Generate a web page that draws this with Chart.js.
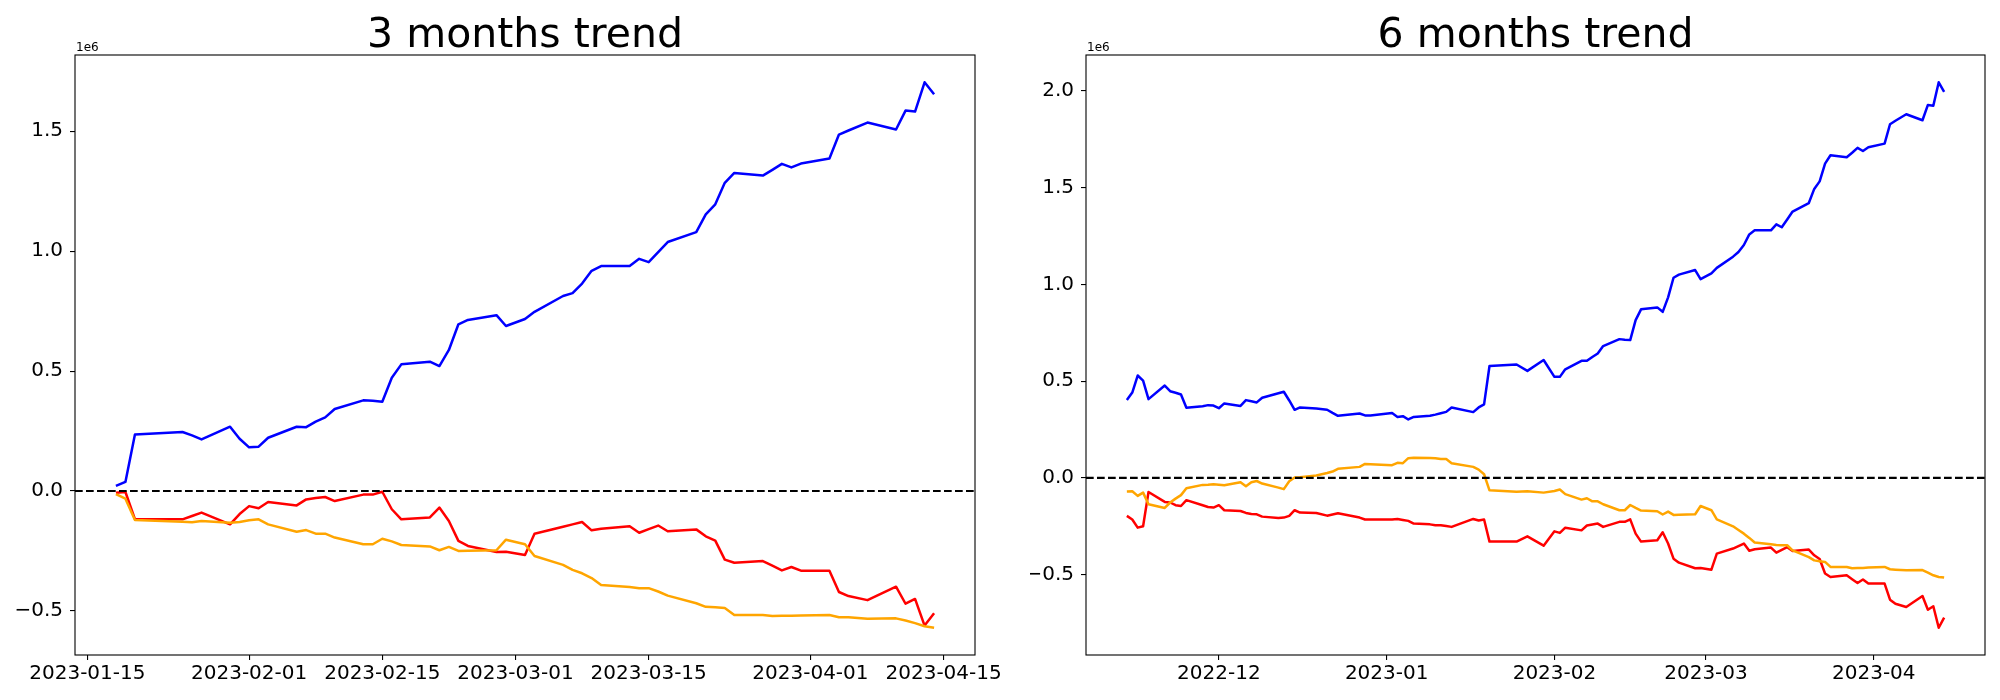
<!DOCTYPE html>
<html>
<head>
<meta charset="utf-8">
<script src="https://cdn.jsdelivr.net/npm/chart.js@4.4.0/dist/chart.umd.min.js"></script>
<style>
  body { margin: 0; background: #fff; width: 2000px; height: 700px; overflow: hidden; position: relative; }
  canvas { position: absolute; top: 0; }
  #left { left: 0; }
  #right { left: 1030px; }
</style>
</head>
<body>
<canvas id="left" width="1030" height="700"></canvas>
<canvas id="right" width="970" height="700"></canvas>
<script>
// 3 months panel (values in units of 1e6)
var dates3m = [
  '2023-01-18','2023-01-19','2023-01-20','2023-01-25','2023-01-26','2023-01-27',
  '2023-01-30','2023-01-31','2023-02-01','2023-02-02','2023-02-03',
  '2023-02-06','2023-02-07','2023-02-08','2023-02-09','2023-02-10',
  '2023-02-13','2023-02-14','2023-02-15','2023-02-16','2023-02-17',
  '2023-02-20','2023-02-21','2023-02-22','2023-02-23','2023-02-24',
  '2023-02-27','2023-02-28','2023-03-02','2023-03-03',
  '2023-03-06','2023-03-07','2023-03-08','2023-03-09','2023-03-10',
  '2023-03-13','2023-03-14','2023-03-15','2023-03-16','2023-03-17',
  '2023-03-20','2023-03-21','2023-03-22','2023-03-23','2023-03-24',
  '2023-03-27','2023-03-28','2023-03-29','2023-03-30','2023-03-31',
  '2023-04-03','2023-04-04','2023-04-05','2023-04-07',
  '2023-04-10','2023-04-11','2023-04-12','2023-04-13','2023-04-14'
];
var blue3m = [
  0.021, 0.038, 0.236, 0.246, 0.232, 0.215,
  0.268, 0.218, 0.182, 0.185, 0.222,
  0.268, 0.266, 0.289, 0.307, 0.342,
  0.378, 0.376, 0.372, 0.472, 0.528,
  0.539, 0.521, 0.588, 0.695, 0.713,
  0.733, 0.688, 0.717, 0.747,
  0.813, 0.825, 0.865, 0.918, 0.938,
  0.938, 0.968, 0.954, 0.996, 1.038,
  1.079, 1.153, 1.195, 1.285, 1.326,
  1.315, 1.339, 1.364, 1.349, 1.365,
  1.386, 1.486, 1.503, 1.536,
  1.507, 1.586, 1.582, 1.704, 1.654
];
var red3m = [
  -0.007, -0.004, -0.117, -0.118, -0.104, -0.090,
  -0.139, -0.096, -0.063, -0.072, -0.046,
  -0.060, -0.035, -0.029, -0.025, -0.042,
  -0.015, -0.015, -0.003, -0.076, -0.118,
  -0.110, -0.069, -0.125, -0.208, -0.229,
  -0.254, -0.253, -0.267, -0.178,
  -0.149, -0.139, -0.129, -0.164, -0.157,
  -0.147, -0.174, -0.159, -0.144, -0.168,
  -0.160, -0.189, -0.207, -0.286, -0.299,
  -0.292, -0.311, -0.331, -0.317, -0.332,
  -0.332, -0.421, -0.438, -0.455,
  -0.399, -0.470, -0.450, -0.561, -0.510
];
var orange3m = [
  -0.013, -0.032, -0.121, -0.128, -0.130, -0.125,
  -0.132, -0.129, -0.122, -0.118, -0.139,
  -0.170, -0.163, -0.178, -0.178, -0.194,
  -0.222, -0.222, -0.199, -0.210, -0.225,
  -0.231, -0.247, -0.233, -0.250, -0.249,
  -0.247, -0.203, -0.222, -0.271,
  -0.308, -0.329, -0.343, -0.363, -0.392,
  -0.400, -0.405, -0.405, -0.419, -0.436,
  -0.468, -0.483, -0.485, -0.488, -0.517,
  -0.517, -0.521, -0.520, -0.520, -0.519,
  -0.517, -0.526, -0.526, -0.533,
  -0.531, -0.540, -0.551, -0.564, -0.570
];
var ticks3m = ['2023-01-15','2023-02-01','2023-02-15','2023-03-01','2023-03-15','2023-04-01','2023-04-15'];

// 6 months panel
var dates6m = [
  '2022-11-14','2022-11-15','2022-11-16','2022-11-17','2022-11-18',
  '2022-11-21','2022-11-22','2022-11-23','2022-11-24','2022-11-25',
  '2022-11-28','2022-11-29','2022-11-30','2022-12-01','2022-12-02',
  '2022-12-05','2022-12-06','2022-12-07','2022-12-08','2022-12-09',
  '2022-12-12','2022-12-13','2022-12-14','2022-12-15','2022-12-16',
  '2022-12-19','2022-12-21','2022-12-22','2022-12-23',
  '2022-12-27','2022-12-28','2022-12-29',
  '2023-01-02','2023-01-03','2023-01-04','2023-01-05','2023-01-06',
  '2023-01-09','2023-01-10','2023-01-11','2023-01-12','2023-01-13',
  '2023-01-17','2023-01-18','2023-01-19','2023-01-20',
  '2023-01-25','2023-01-27',
  '2023-01-30','2023-02-01','2023-02-02','2023-02-03',
  '2023-02-06','2023-02-07','2023-02-08','2023-02-09','2023-02-10',
  '2023-02-13','2023-02-14','2023-02-15','2023-02-16','2023-02-17',
  '2023-02-20','2023-02-21','2023-02-22','2023-02-23','2023-02-24',
  '2023-02-27','2023-02-28','2023-03-02','2023-03-03',
  '2023-03-06','2023-03-07','2023-03-08','2023-03-09','2023-03-10',
  '2023-03-13','2023-03-14','2023-03-15','2023-03-16','2023-03-17',
  '2023-03-20','2023-03-21','2023-03-22','2023-03-23','2023-03-24',
  '2023-03-27','2023-03-28','2023-03-29','2023-03-30','2023-03-31',
  '2023-04-03','2023-04-04','2023-04-05','2023-04-07',
  '2023-04-10','2023-04-11','2023-04-12','2023-04-13','2023-04-14'
];
var blue6m = [
  0.402, 0.441, 0.529, 0.503, 0.407,
  0.477, 0.448, 0.440, 0.431, 0.362,
  0.370, 0.376, 0.374, 0.360, 0.385,
  0.372, 0.402, 0.396, 0.390, 0.414,
  0.437, 0.445, 0.400, 0.352, 0.364,
  0.358, 0.352, 0.336, 0.321,
  0.333, 0.323, 0.323,
  0.335, 0.315, 0.319, 0.302, 0.315,
  0.321, 0.327, 0.334, 0.341, 0.364,
  0.340, 0.364, 0.380, 0.578,
  0.586, 0.553,
  0.609, 0.522, 0.522, 0.561,
  0.605, 0.605, 0.625, 0.643, 0.681,
  0.717, 0.714, 0.712, 0.815, 0.871,
  0.881, 0.858, 0.933, 1.034, 1.050,
  1.074, 1.027, 1.057, 1.085,
  1.143, 1.167, 1.203, 1.258, 1.279,
  1.279, 1.310, 1.295, 1.335, 1.376,
  1.420, 1.493, 1.532, 1.624, 1.667,
  1.657, 1.680, 1.705, 1.689, 1.708,
  1.727, 1.827, 1.845, 1.879,
  1.848, 1.927, 1.923, 2.044, 1.994
];
var red6m = [
  -0.196, -0.215, -0.257, -0.250, -0.073,
  -0.124, -0.127, -0.141, -0.145, -0.115,
  -0.141, -0.150, -0.153, -0.141, -0.167,
  -0.171, -0.181, -0.186, -0.188, -0.200,
  -0.207, -0.205, -0.196, -0.167, -0.179,
  -0.181, -0.195, -0.189, -0.183,
  -0.205, -0.215, -0.215,
  -0.215, -0.212, -0.217, -0.222, -0.236,
  -0.240, -0.245, -0.245, -0.249, -0.253,
  -0.212, -0.220, -0.215, -0.329,
  -0.329, -0.302,
  -0.350, -0.276, -0.284, -0.257,
  -0.271, -0.246, -0.241, -0.236, -0.253,
  -0.227, -0.227, -0.214, -0.288, -0.329,
  -0.322, -0.281, -0.339, -0.417, -0.438,
  -0.467, -0.465, -0.474, -0.391,
  -0.365, -0.352, -0.339, -0.376, -0.369,
  -0.360, -0.386, -0.372, -0.358, -0.377,
  -0.370, -0.400, -0.419, -0.494, -0.512,
  -0.503, -0.523, -0.543, -0.525, -0.546,
  -0.546, -0.629, -0.650, -0.667,
  -0.610, -0.681, -0.663, -0.774, -0.722
];
var orange6m = [
  -0.070, -0.069, -0.093, -0.076, -0.136,
  -0.155, -0.127, -0.107, -0.089, -0.053,
  -0.036, -0.035, -0.033, -0.035, -0.038,
  -0.022, -0.043, -0.022, -0.016, -0.029,
  -0.050, -0.058, -0.017, 0.002, 0.004,
  0.012, 0.025, 0.033, 0.047,
  0.057, 0.072, 0.071,
  0.066, 0.078, 0.076, 0.102, 0.104,
  0.103, 0.102, 0.098, 0.098, 0.076,
  0.057, 0.043, 0.019, -0.064,
  -0.072, -0.069,
  -0.076, -0.068, -0.060, -0.084,
  -0.112, -0.105, -0.121, -0.121, -0.136,
  -0.167, -0.167, -0.140, -0.155, -0.169,
  -0.172, -0.189, -0.174, -0.191, -0.190,
  -0.188, -0.145, -0.167, -0.214,
  -0.250, -0.269, -0.288, -0.310, -0.334,
  -0.343, -0.346, -0.348, -0.348, -0.374,
  -0.409, -0.426, -0.430, -0.434, -0.460,
  -0.460, -0.467, -0.466, -0.465, -0.463,
  -0.460, -0.472, -0.474, -0.477,
  -0.476, -0.489, -0.503, -0.512, -0.515
];
var ticks6m = ['2022-12','2023-01','2023-02','2023-03','2023-04'];

var FONT = 'DejaVu Sans';

function toTime(s) {
  return Date.parse(s.length === 7 ? s + '-01' : s);
}

function pairs(dates, vals) {
  return dates.map(function (d, i) { return { x: toTime(d), y: vals[i] }; });
}

function fmtY(v) {
  var s = (Math.round(v * 10) / 10).toFixed(1);
  return s.replace('-', '\u2212');
}

// matplotlib-ish bits: box frame, dashed zero line, title, offset text
var mplExtras = {
  id: 'mplExtras',
  afterDatasetsDraw: function (chart) {
    var ctx = chart.ctx, a = chart.chartArea;
    var y0 = chart.scales.y.getPixelForValue(0);
    ctx.save();
    ctx.strokeStyle = '#000';
    ctx.lineWidth = 2.2;
    ctx.setLineDash([7.7, 3.3]);
    ctx.beginPath();
    ctx.moveTo(a.left, y0);
    ctx.lineTo(a.right, y0);
    ctx.stroke();
    ctx.restore();
  },
  afterDraw: function (chart, args, opts) {
    var ctx = chart.ctx, a = chart.chartArea;
    ctx.save();
    ctx.strokeStyle = '#000';
    ctx.lineWidth = 1.1;
    ctx.strokeRect(a.left, a.top, a.right - a.left, a.bottom - a.top);
    ctx.fillStyle = '#000';
    ctx.textBaseline = 'alphabetic';
    ctx.textAlign = 'center';
    ctx.font = '41px "' + FONT + '"';
    ctx.fillText(opts.title, (a.left + a.right) / 2, 47);
    ctx.textAlign = 'left';
    ctx.font = '12px "' + FONT + '"';
    ctx.fillText('1e6', a.left + 1, a.top - 4);
    ctx.restore();
  }
};

function makeChart(id, title, dates, blue, red, orange, tickLabels, yWidth, padRight) {
  var t0 = toTime(dates[0]), t1 = toTime(dates[dates.length - 1]);
  var xPad = (t1 - t0) * 0.05;
  var all = blue.concat(red, orange);
  var lo = Math.min.apply(null, all), hi = Math.max.apply(null, all);
  var yPad = (hi - lo) * 0.05;
  var tickVals = tickLabels.map(toTime);

  var ctx = document.getElementById(id).getContext('2d');
  return new Chart(ctx, {
    type: 'line',
    data: {
      datasets: [
        { data: pairs(dates, orange), borderColor: '#ffa500' },
        { data: pairs(dates, red), borderColor: '#ff0000' },
        { data: pairs(dates, blue), borderColor: '#0000ff' }
      ]
    },
    options: {
      responsive: false,
      animation: false,
      devicePixelRatio: 1,
      layout: { padding: { top: 55, right: padRight, bottom: 0, left: 0 } },
      elements: {
        line: { borderWidth: 2.5, tension: 0, fill: false, borderJoinStyle: 'round' },
        point: { radius: 0 }
      },
      plugins: {
        legend: { display: false },
        tooltip: { enabled: false },
        mplExtras: { title: title }
      },
      scales: {
        x: {
          type: 'linear',
          min: t0 - xPad,
          max: t1 + xPad,
          afterBuildTicks: function (s) {
            s.ticks = tickVals.map(function (v) { return { value: v }; });
          },
          afterFit: function (s) {
            s.height = 45;
            s.paddingLeft = 0;
            s.paddingRight = 0;
          },
          ticks: {
            autoSkip: false,
            maxRotation: 0,
            minRotation: 0,
            padding: 2,
            color: '#000',
            font: { family: FONT, size: 20 },
            callback: function (v, i) { return tickLabels[i]; }
          },
          grid: { drawOnChartArea: false, tickLength: 5, color: '#000', lineWidth: 1.1 },
          border: { display: false }
        },
        y: {
          min: lo - yPad,
          max: hi + yPad,
          afterBuildTicks: function (s) {
            s.ticks = s.ticks.filter(function (t) {
              return t.value >= s.min && t.value <= s.max && Math.abs(t.value * 2 - Math.round(t.value * 2)) < 1e-6;
            });
          },
          afterFit: function (s) { s.width = yWidth; },
          ticks: {
            stepSize: 0.5,
            includeBounds: false,
            padding: 7,
            color: '#000',
            font: { family: FONT, size: 20 },
            callback: fmtY
          },
          grid: { drawOnChartArea: false, tickLength: 5, color: '#000', lineWidth: 1.1 },
          border: { display: false }
        }
      }
    },
    plugins: [mplExtras]
  });
}

document.addEventListener('DOMContentLoaded', function () {
  makeChart('left', '3 months trend', dates3m, blue3m, red3m, orange3m, ticks3m, 75, 55);
  makeChart('right', '6 months trend', dates6m, blue6m, red6m, orange6m, ticks6m, 56, 15);
});
</script>
</body>
</html>
